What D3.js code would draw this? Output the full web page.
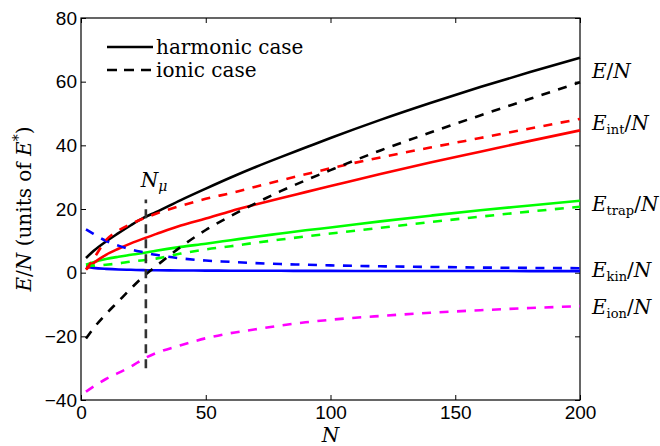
<!DOCTYPE html>
<html>
<head>
<meta charset="utf-8">
<script src="https://cdn.jsdelivr.net/npm/d3@7"></script>
<style>
  body { margin: 0; background: #fff; }
  .axis text { font-family: "Liberation Sans", Arial, sans-serif; font-size: 19px; fill: #000; }
  .axis line { stroke: #000; }
  .serif { font-family: "DejaVu Serif", serif; font-size: 20px; fill: #000; }
</style>
</head>
<body>
<div id="chart"></div>
<script>
// particle numbers where the curves were read
const n_values = [2, 5, 10, 15, 20, 25, 30, 40, 50, 60, 70, 80, 90, 100, 120, 140, 160, 180, 200];

// harmonic case (solid)
const e_total_harm = [4.6, 6.8, 9.8, 12.4, 14.9, 17.2, 19.0, 22.8, 26.4, 29.9, 33.2, 36.3, 39.3, 42.3, 48.0, 53.3, 58.3, 63.0, 67.5];
const e_int_harm   = [1.0, 3.0, 5.6, 7.5, 9.2, 10.7, 12.1, 14.8, 17.0, 19.3, 21.4, 23.4, 25.3, 27.2, 31.0, 34.6, 38.0, 41.4, 44.7];
const e_trap_harm  = [2.5, 3.3, 4.3, 5.0, 5.6, 6.2, 6.9, 8.1, 9.1, 10.2, 11.3, 12.3, 13.3, 14.2, 16.1, 17.9, 19.6, 21.1, 22.6];
const e_kin_harm   = [1.8, 1.5, 1.2, 1.0, 0.9, 0.8, 0.75, 0.7, 0.65, 0.62, 0.6, 0.58, 0.56, 0.55, 0.53, 0.52, 0.51, 0.5, 0.5];

// ionic case (dashed)
const e_total_ion  = [-20.7, -17.5, -13.0, -9.0, -5.0, -1.2, 2.0, 8.1, 13.4, 17.8, 21.8, 25.6, 29.0, 32.2, 38.4, 44.0, 49.4, 54.6, 59.8];
const e_int_ion    = [1.0, 4.3, 10.2, 13.2, 15.3, 17.0, 18.5, 21.0, 23.2, 25.0, 27.0, 29.0, 30.9, 32.8, 36.2, 39.3, 42.3, 45.3, 48.3];
const e_trap_ion   = [2.4, 2.2, 2.5, 2.9, 3.5, 3.9, 4.4, 6.0, 7.3, 8.3, 9.4, 10.4, 11.4, 12.3, 14.1, 15.9, 17.6, 19.2, 20.7];
const e_kin_ion    = [13.6, 12.2, 10.0, 8.5, 7.3, 6.4, 5.6, 4.5, 3.8, 3.4, 3.0, 2.7, 2.5, 2.3, 2.0, 1.8, 1.6, 1.5, 1.4];
const e_ion_ion    = [-37.4, -35.8, -33.4, -31.5, -29.5, -27.1, -25.3, -22.8, -20.6, -19.0, -17.8, -16.6, -15.6, -14.8, -13.6, -12.6, -11.8, -11.1, -10.5];

const n_mu = 26;
const n_mu_range = [-30, 23];

const x_ticks = [0, 50, 100, 150, 200];
const y_ticks = [-40, -20, 0, 20, 40, 60, 80];

const chart_width = 660;
const chart_height = 446;
const plot_left = 81, plot_right = 580, plot_top = 18, plot_bottom = 400;

const svg = d3.select('#chart')
    .append('svg')
    .attr('width', chart_width)
    .attr('height', chart_height);

// Scales
const x_scale = d3.scaleLinear().domain([0, 200]).range([plot_left, plot_right]);
const y_scale = d3.scaleLinear().domain([-40, 80]).range([plot_bottom, plot_top]);

// Axes (ticks pointing inward)
svg.append('g')
    .classed('axis', true)
    .attr('transform', `translate(0, ${plot_bottom})`)
    .call(d3.axisBottom(x_scale).tickValues(x_ticks).tickSizeInner(-5).tickSizeOuter(0).tickPadding(6));

svg.append('g')
    .classed('axis', true)
    .attr('transform', `translate(0, ${plot_top})`)
    .call(d3.axisTop(x_scale).tickValues(x_ticks).tickSizeInner(-5).tickSizeOuter(0).tickFormat(''));

svg.append('g')
    .classed('axis', true)
    .attr('transform', `translate(${plot_left}, 0)`)
    .call(d3.axisLeft(y_scale).tickValues(y_ticks).tickSizeInner(-5).tickSizeOuter(0).tickPadding(4));

svg.append('g')
    .classed('axis', true)
    .attr('transform', `translate(${plot_right}, 0)`)
    .call(d3.axisRight(y_scale).tickValues(y_ticks).tickSizeInner(-5).tickSizeOuter(0).tickFormat(''));

svg.selectAll('.axis .domain').remove();

svg.append('rect')
    .attr('x', plot_left).attr('y', plot_top)
    .attr('width', plot_right - plot_left).attr('height', plot_bottom - plot_top)
    .attr('fill', 'none').attr('stroke', '#000').attr('stroke-width', 1.2);

// Curves
const line = d3.line()
    .x((d, i) => x_scale(n_values[i]))
    .y(d => y_scale(d))
    .curve(d3.curveMonotoneX);

const series = [
    { values: e_kin_harm, color: '#0000ff', dash: null },
    { values: e_trap_harm, color: '#00ff00', dash: null },
    { values: e_int_harm, color: '#ff0000', dash: null },
    { values: e_total_harm, color: '#000000', dash: null },
    { values: e_ion_ion, color: '#ff00ff', dash: '9,8.5' },
    { values: e_kin_ion, color: '#0000ff', dash: '9,8.5' },
    { values: e_trap_ion, color: '#00ff00', dash: '9,8.5' },
    { values: e_int_ion, color: '#ff0000', dash: '9,8.5' },
    { values: e_total_ion, color: '#000000', dash: '9,8.5' },
];

svg.append('g')
    .selectAll('path')
    .data(series)
    .enter()
    .append('path')
    .attr('d', d => line(d.values))
    .attr('fill', 'none')
    .attr('stroke', d => d.color)
    .attr('stroke-width', 2.6)
    .attr('stroke-dasharray', d => d.dash);

// N_mu marker
svg.append('line')
    .attr('x1', x_scale(n_mu)).attr('x2', x_scale(n_mu))
    .attr('y1', y_scale(n_mu_range[0])).attr('y2', y_scale(n_mu_range[1]))
    .attr('stroke', '#333').attr('stroke-width', 2.6)
    .attr('stroke-dasharray', '9,6');

const mu = svg.append('text').classed('serif', true)
    .attr('x', x_scale(n_mu) - 5).attr('y', 187);
mu.append('tspan').attr('font-style', 'italic').text('N');
mu.append('tspan').attr('font-size', '14px').attr('dy', 4).attr('font-style', 'italic').text('μ');

// Legend
const legend = [
    { label: 'harmonic case', dash: null, y: 47 },
    { label: 'ionic case', dash: '10,7', y: 70 },
];
const lg = svg.append('g');
lg.selectAll('line')
    .data(legend)
    .enter()
    .append('line')
    .attr('x1', 107).attr('x2', 153)
    .attr('y1', d => d.y).attr('y2', d => d.y)
    .attr('stroke', '#000').attr('stroke-width', 2.6)
    .attr('stroke-dasharray', d => d.dash);
lg.selectAll('text')
    .data(legend)
    .enter()
    .append('text')
    .classed('serif', true)
    .attr('x', 156).attr('y', d => d.y + 7)
    .text(d => d.label);

// Right-side labels
const right_labels = [
    { sub: null, y: 78 },
    { sub: 'int', y: 130 },
    { sub: 'trap', y: 211 },
    { sub: 'kin', y: 277 },
    { sub: 'ion', y: 314 },
];
right_labels.forEach(d => {
    const t = svg.append('text').classed('serif', true).attr('x', 592).attr('y', d.y);
    t.append('tspan').attr('font-style', 'italic').text('E');
    if (d.sub) {
        t.append('tspan').attr('font-size', '13px').attr('dy', 4).text(d.sub);
        t.append('tspan').attr('dy', -4).text('/');
    } else {
        t.append('tspan').text('/');
    }
    t.append('tspan').attr('font-style', 'italic').text('N');
});

// Axis labels
const xl = svg.append('text').classed('serif', true)
    .attr('x', (plot_left + plot_right) / 2).attr('y', 441.5)
    .attr('text-anchor', 'middle')
    .attr('font-size', '19px');
xl.append('tspan').attr('font-style', 'italic').text('N');

const yl = svg.append('text').classed('serif', true)
    .attr('transform', `translate(31, ${(plot_top + plot_bottom) / 2}) rotate(-90)`)
    .attr('text-anchor', 'middle')
    .attr('font-size', '21px');
yl.append('tspan').attr('font-style', 'italic').text('E');
yl.append('tspan').text('/');
yl.append('tspan').attr('font-style', 'italic').text('N');
yl.append('tspan').text(' (units of ');
yl.append('tspan').attr('font-style', 'italic').text('E');
yl.append('tspan').attr('font-size', '14px').attr('dy', -8).text('*');
yl.append('tspan').attr('dy', 8).text(')');
</script>
</body>
</html>
